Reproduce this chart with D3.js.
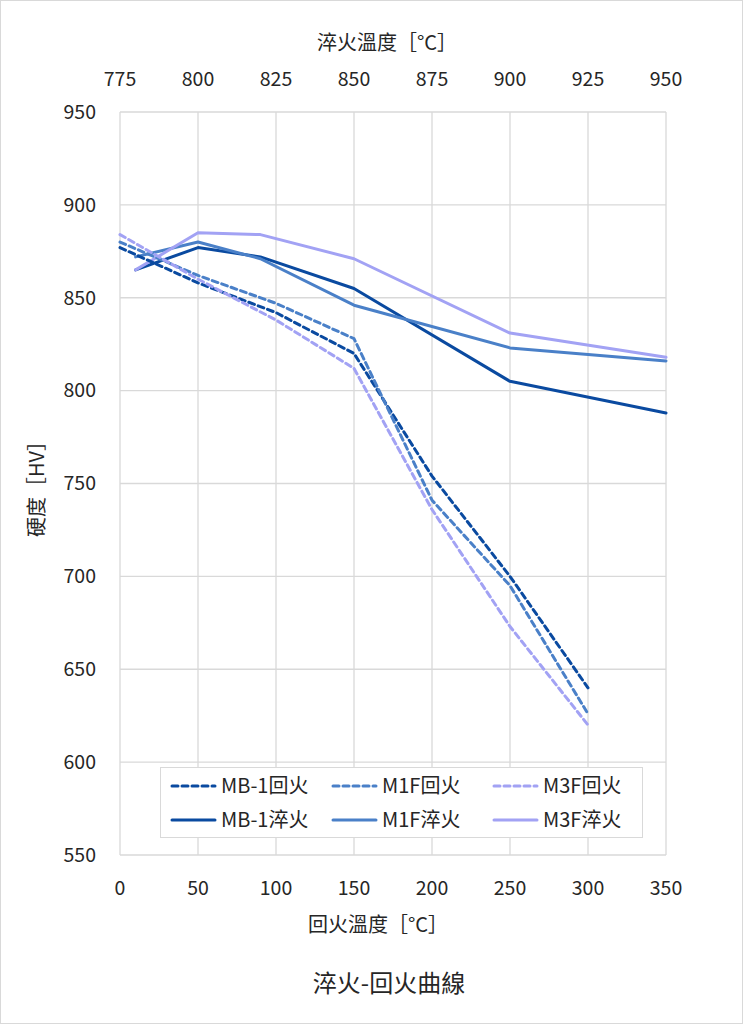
<!DOCTYPE html>
<html><head><meta charset="utf-8">
<script src="https://cdn.jsdelivr.net/npm/d3@7/dist/d3.min.js"></script>
<style>body{margin:0;background:#fff}text{font-family:"Noto Sans CJK TC","Noto Sans",sans-serif;fill:#262626}</style>
</head><body><svg id="c" width="743" height="1024"></svg>
<script>
const temperX = [0, 50, 100, 150, 200, 250, 300];
const mb1Temper = [877, 858, 842, 820, 754, 700, 640];
const m1fTemper = [880, 862, 847, 828, 741, 695, 626];
const m3fTemper = [884, 860, 838, 812, 736, 673, 620];
const quenchX = [780, 800, 820, 850, 900, 950];
const mb1Quench = [865, 877, 872, 855, 805, 788];
const m1fQuench = [872, 880, 871, 846, 823, 816];
const m3fQuench = [865, 885, 884, 871, 831, 818];
const bottomTicks = [0, 50, 100, 150, 200, 250, 300, 350];
const topTicks = [775, 800, 825, 850, 875, 900, 925, 950];
const yTicks = [550, 600, 650, 700, 750, 800, 850, 900, 950];
const names = ["MB-1回火","M1F回火","M3F回火","MB-1淬火","M1F淬火","M3F淬火"];
const colors = ["#0a4aa0","#4a80c8","#a2a2f4"];

const svg = d3.select("#c");
const L=120,R=666,T=112,B=855;
const xB = d3.scaleLinear().domain([0,350]).range([L,R]);
const xT = d3.scaleLinear().domain([775,950]).range([L,R]);
const y = d3.scaleLinear().domain([550,950]).range([B,T]);

svg.append("rect").attr("x",0.5).attr("y",0.5).attr("width",742).attr("height",1023).attr("fill","#fff").attr("stroke","#d9d9d9");

// grid
svg.append("g").selectAll("line").data(yTicks).join("line")
 .attr("x1",L).attr("x2",R).attr("y1",d=>y(d)).attr("y2",d=>y(d)).attr("stroke","#d9d9d9").attr("stroke-width",1.3);
svg.append("g").selectAll("line").data(bottomTicks).join("line")
 .attr("x1",d=>xB(d)).attr("x2",d=>xB(d)).attr("y1",T).attr("y2",B).attr("stroke","#d9d9d9").attr("stroke-width",1.3);

// axes labels
const fs = 19.5;
svg.append("g").selectAll("text").data(yTicks).join("text")
 .attr("x",96).attr("y",d=>y(d)).attr("dy","0.35em").attr("text-anchor","end").attr("font-size",fs).text(d=>d);
svg.append("g").selectAll("text").data(bottomTicks).join("text")
 .attr("x",d=>xB(d)).attr("y",888).attr("dy","0.35em").attr("text-anchor","middle").attr("font-size",fs).text(d=>d);
svg.append("g").selectAll("text").data(topTicks).join("text")
 .attr("x",d=>xT(d)).attr("y",79).attr("dy","0.35em").attr("text-anchor","middle").attr("font-size",fs).text(d=>d);

svg.append("text").attr("x",387).attr("y",43).attr("dy","0.35em").attr("text-anchor","middle").attr("font-size",20).text("淬火溫度［°C］");
svg.append("text").attr("x",378).attr("y",925).attr("dy","0.35em").attr("text-anchor","middle").attr("font-size",20).text("回火溫度［°C］");
svg.append("text").attr("transform","translate(37,484) rotate(-90)").attr("dy","0.35em").attr("text-anchor","middle").attr("font-size",20).text("硬度［HV］");
svg.append("text").attr("x",389).attr("y",984).attr("dy","0.35em").attr("text-anchor","middle").attr("font-size",24).text("淬火-回火曲線");

// lines
const lineB = d3.line().x(d=>xB(d[0])).y(d=>y(d[1]));
const lineT = d3.line().x(d=>xT(d[0])).y(d=>y(d[1]));
const temper=[mb1Temper,m1fTemper,m3fTemper];
const quench=[mb1Quench,m1fQuench,m3fQuench];
const dash="6,4";
quench.forEach((s,i)=>{
 svg.append("path").attr("d",lineT(quenchX.map((x,j)=>[x,s[j]]))).attr("fill","none")
  .attr("stroke",colors[i]).attr("stroke-width",3).attr("stroke-linejoin","round").attr("stroke-linecap","round");
});
temper.forEach((s,i)=>{
 svg.append("path").attr("d",lineB(temperX.map((x,j)=>[x,s[j]]))).attr("fill","none")
  .attr("stroke",colors[i]).attr("stroke-width",3).attr("stroke-dasharray",dash).attr("stroke-linejoin","round").attr("stroke-linecap","round");
});

// legend
const lg = svg.append("g");
lg.append("rect").attr("x",160.5).attr("y",767.5).attr("width",482).attr("height",70).attr("fill","#fff").attr("stroke","#d9d9d9");
const colX=[172,333,494];
names.forEach((n,k)=>{
 const c=k%3, r=Math.floor(k/3);
 const yy = r===0?786:820;
 lg.append("line").attr("x1",colX[c]).attr("x2",colX[c]+43).attr("y1",yy).attr("y2",yy)
  .attr("stroke",colors[c]).attr("stroke-width",3).attr("stroke-linecap","round")
  .attr("stroke-dasharray",r===0?dash:null);
 lg.append("text").attr("x",colX[c]+49).attr("y",yy).attr("dy","0.35em").attr("font-size",20).text(n);
});
</script></body></html>
